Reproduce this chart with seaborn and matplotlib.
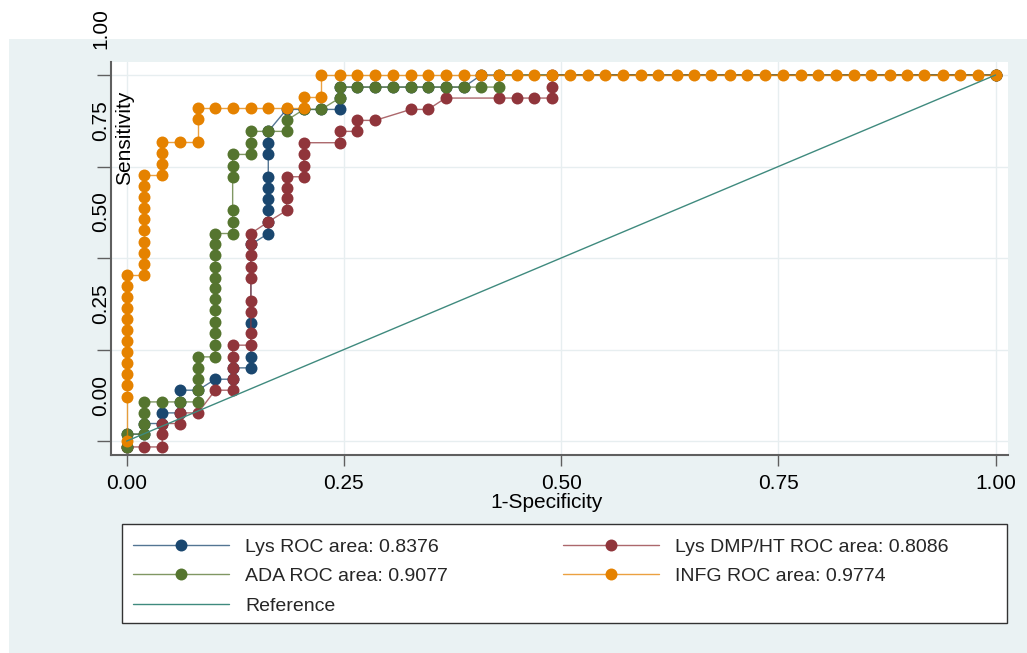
import matplotlib
matplotlib.use("Agg")
import numpy as np
import pandas as pd
import seaborn as sns
import matplotlib.pyplot as plt
from matplotlib.patches import Rectangle
from matplotlib.lines import Line2D
from matplotlib.transforms import ScaledTranslation
from matplotlib.colors import to_rgba

# ---------------- data ----------------
lys_fpr = [0.000, 0.000, 0.020, 0.020, 0.041, 0.041, 0.061, 0.061, 0.061, 0.082,
           0.102, 0.122, 0.122, 0.143, 0.143, 0.143, 0.143, 0.163, 0.163, 0.163,
           0.163, 0.163, 0.163, 0.163, 0.163, 0.163, 0.184, 0.204, 0.224, 0.245,
           0.245, 0.245, 0.265, 0.286, 0.306, 0.327, 0.347, 0.367, 0.388, 0.408,
           1.000]
lys_tpr = [-0.016, 0.019, 0.019, 0.048, 0.048, 0.077, 0.077, 0.107, 0.139, 0.139,
           0.169, 0.169, 0.200, 0.200, 0.230, 0.323, 0.537, 0.567, 0.599, 0.630,
           0.661, 0.691, 0.722, 0.783, 0.815, 0.846, 0.906, 0.906, 0.906, 0.906,
           0.937, 0.967, 0.967, 0.967, 0.967, 0.967, 0.967, 0.967, 0.967, 1.000,
           1.000]

dmp_fpr = [0.000, 0.020, 0.041, 0.041, 0.041, 0.061, 0.061, 0.082, 0.102, 0.122,
           0.122, 0.122, 0.122, 0.122, 0.143, 0.143, 0.143, 0.143, 0.143, 0.143,
           0.143, 0.143, 0.143, 0.163, 0.184, 0.184, 0.184, 0.184, 0.204, 0.204,
           0.204, 0.204, 0.245, 0.245, 0.265, 0.265, 0.286, 0.327, 0.347, 0.367,
           0.429, 0.449, 0.469, 0.490, 0.490, 0.490, 1.000]
dmp_tpr = [-0.016, -0.016, -0.016, 0.019, 0.048, 0.048, 0.077, 0.077, 0.139, 0.139,
           0.169, 0.200, 0.230, 0.262, 0.262, 0.294, 0.353, 0.383, 0.446, 0.476,
           0.508, 0.537, 0.567, 0.599, 0.630, 0.663, 0.692, 0.722, 0.722, 0.751,
           0.783, 0.815, 0.815, 0.846, 0.846, 0.876, 0.876, 0.906, 0.906, 0.937,
           0.937, 0.937, 0.937, 0.937, 0.967, 1.000, 1.000]

ada_fpr = [0.000, 0.000, 0.020, 0.020, 0.020, 0.020, 0.041, 0.061, 0.082, 0.082,
           0.082, 0.082, 0.082, 0.102, 0.102, 0.102, 0.102, 0.102, 0.102, 0.102,
           0.102, 0.102, 0.102, 0.102, 0.102, 0.122, 0.122, 0.122, 0.122, 0.122,
           0.122, 0.143, 0.143, 0.143, 0.163, 0.184, 0.184, 0.204, 0.224, 0.245,
           0.245, 0.265, 0.286, 0.306, 0.327, 0.347, 0.367, 0.388, 0.408, 0.429,
           0.429, 1.000]
ada_tpr = [-0.016, 0.019, 0.019, 0.048, 0.077, 0.107, 0.107, 0.107, 0.107, 0.139,
           0.169, 0.199, 0.230, 0.230, 0.262, 0.294, 0.326, 0.358, 0.387, 0.417,
           0.446, 0.476, 0.508, 0.537, 0.567, 0.567, 0.599, 0.630, 0.722, 0.751,
           0.783, 0.783, 0.815, 0.846, 0.846, 0.846, 0.876, 0.906, 0.906, 0.937,
           0.967, 0.967, 0.967, 0.967, 0.967, 0.967, 0.967, 0.967, 0.967, 0.967,
           1.000, 1.000]

infg_fpr = [0.000, 0.000, 0.000, 0.000, 0.000, 0.000, 0.000, 0.000, 0.000, 0.000,
            0.000, 0.000, 0.000, 0.020, 0.020, 0.020, 0.020, 0.020, 0.020, 0.020,
            0.020, 0.020, 0.020, 0.041, 0.041, 0.041, 0.041, 0.061, 0.082, 0.082,
            0.082, 0.102, 0.122, 0.143, 0.163, 0.184, 0.204, 0.204, 0.224, 0.224,
            0.245, 0.265, 0.286, 0.306, 0.327, 0.347, 0.367, 0.388, 0.408, 0.429,
            0.449, 0.469, 0.490, 0.510, 0.531, 0.551, 0.571, 0.592, 0.612, 0.633,
            0.653, 0.673, 0.694, 0.714, 0.735, 0.755, 0.776, 0.796, 0.816, 0.837,
            0.857, 0.878, 0.898, 0.918, 0.939, 0.959, 0.980, 1.000]
infg_tpr = [0.000, 0.121, 0.152, 0.182, 0.212, 0.242, 0.273, 0.303, 0.333, 0.364,
            0.394, 0.424, 0.455, 0.455, 0.485, 0.515, 0.545, 0.576, 0.606, 0.636,
            0.667, 0.697, 0.727, 0.727, 0.758, 0.788, 0.818, 0.818, 0.818, 0.879,
            0.909, 0.909, 0.909, 0.909, 0.909, 0.909, 0.909, 0.939, 0.939, 1.000,
            1.000, 1.000, 1.000, 1.000, 1.000, 1.000, 1.000, 1.000, 1.000, 1.000,
            1.000, 1.000, 1.000, 1.000, 1.000, 1.000, 1.000, 1.000, 1.000, 1.000,
            1.000, 1.000, 1.000, 1.000, 1.000, 1.000, 1.000, 1.000, 1.000, 1.000,
            1.000, 1.000, 1.000, 1.000, 1.000, 1.000, 1.000, 1.000]

ref_x = [0.0, 1.0]
ref_y = [0.0, 1.0]

labels = ["Lys ROC area: 0.8376", "Lys DMP/HT ROC area: 0.8086",
          "ADA ROC area: 0.9077", "INFG ROC area: 0.9774", "Reference"]
tick_vals = [0.0, 0.25, 0.5, 0.75, 1.0]
tick_labels = ["0.00", "0.25", "0.50", "0.75", "1.00"]

# ---------------- styling ----------------
C_LYS = "#1a476f"
C_DMP = "#90353b"
C_ADA = "#55752f"
C_INFG = "#e58200"
C_REF = "#3f8a7e"
BG = "#EAF2F3"
GRID = "#E7EEF0"

sns.set_theme(style="white")
plt.rcParams["font.family"] = ["Liberation Sans", "DejaVu Sans"]

W, H = 1027, 653
fig = plt.figure(figsize=(W / 100, H / 100), dpi=100, facecolor="white")


def fx(px):
    return px / W


def fy(py):
    return 1 - py / H


fig.patches.append(Rectangle((fx(9), 0), 1 - fx(9), fy(39), transform=fig.transFigure,
                             facecolor=BG, edgecolor="none", zorder=-2))

ax = fig.add_axes([fx(111), fy(455), fx(1008) - fx(111), fy(62) - fy(455)])
ax.set_facecolor("white")
ax.set_xlim(-0.018, 1.0143)
ax.set_ylim(-0.038, 1.0355)

ax.grid(True, color=GRID, lw=1.0)
ax.set_axisbelow(True)

series = [(lys_fpr, lys_tpr, C_LYS), (dmp_fpr, dmp_tpr, C_DMP),
          (ada_fpr, ada_tpr, C_ADA), (infg_fpr, infg_tpr, C_INFG)]
for k, (xv, yv, c) in enumerate(series):
    df = pd.DataFrame({"fpr": xv, "tpr": yv})
    sns.lineplot(data=df, x="fpr", y="tpr", sort=False, estimator=None, color=c,
                 lw=1.0, alpha=0.75, ax=ax, zorder=3 + 2 * k)
    sns.scatterplot(data=df, x="fpr", y="tpr", color=c, s=74, linewidth=0,
                    ax=ax, zorder=4 + 2 * k)

sns.lineplot(x=ref_x, y=ref_y, color=C_REF, lw=1.0, ax=ax, zorder=20)

for s in ["top", "right"]:
    ax.spines[s].set_visible(False)
for s in ["left", "bottom"]:
    ax.spines[s].set_color("#5f5f5f")
    ax.spines[s].set_linewidth(1.5)

ax.set_xticks(tick_vals)
ax.set_xticklabels(tick_labels)
ax.set_yticks(tick_vals)
ax.set_yticklabels(tick_labels)
ax.tick_params(axis="x", length=8, width=1, color="#5f5f5f", pad=6, labelsize=15,
               labelcolor="black", bottom=True)
ax.tick_params(axis="y", length=10, width=1, color="#5f5f5f", pad=0, labelsize=15,
               labelcolor="black", labelrotation=90, left=True)
off = ScaledTranslation(13 / 100, 46 / 100, fig.dpi_scale_trans)
for lab in ax.get_yticklabels():
    lab.set_verticalalignment("center")
    lab.set_transform(lab.get_transform() + off)

ax.set_xlabel("1-Specificity", fontsize=15, color="black")
ax.xaxis.set_label_coords((547 - 111) / 897, -(503 - 455) / 393)
ax.xaxis.label.set_verticalalignment("center")
ax.set_ylabel("Sensitivity", fontsize=15, color="black")
ax.yaxis.set_label_coords((125 - 111) / 897, (455 - 137.5) / 393)
ax.yaxis.label.set_verticalalignment("center")

# legend box
fig.patches.append(Rectangle((fx(122), fy(623)), fx(1007) - fx(122), fy(524) - fy(623),
                             transform=fig.transFigure, facecolor="white",
                             edgecolor="#333333", lw=1.0, zorder=-1))


def handle(c, marker=True):
    if marker:
        return Line2D([0], [0], color=to_rgba(c, 0.75), lw=1.0, marker="o",
                      markersize=8.6, markerfacecolor=c, markeredgewidth=0)
    return Line2D([0], [0], color=c, lw=1.0)


hs = [handle(C_LYS), handle(C_ADA), handle(C_REF, False), handle(C_DMP), handle(C_INFG)]
ls = [labels[0], labels[2], labels[4], labels[1], labels[3]]
fig.legend(hs, ls, loc="upper left", bbox_to_anchor=(fx(133), fy(538)), ncol=2,
           frameon=False, fontsize=14, handlelength=4.94, handletextpad=0.82,
           columnspacing=5.9, labelspacing=0.62, borderpad=0, borderaxespad=0,
           numpoints=1)

fig.savefig("out.png", dpi=100, facecolor="white")
